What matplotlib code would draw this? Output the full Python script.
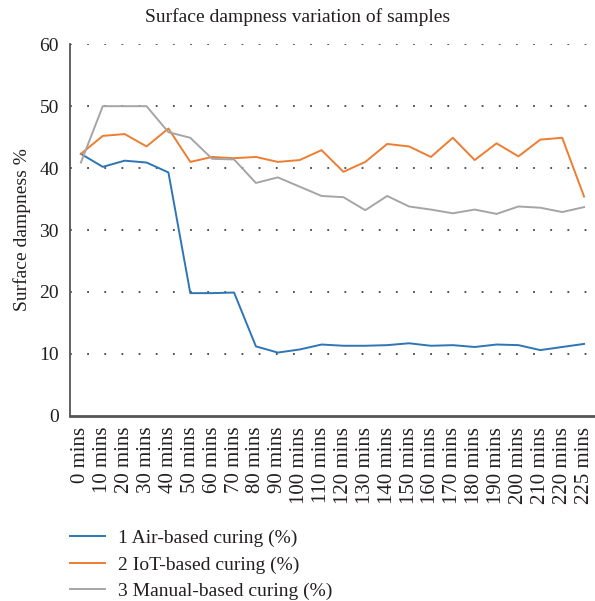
import matplotlib
matplotlib.use("Agg")
import matplotlib.pyplot as plt

# ---------------- Data ----------------

times = ["0 mins", "10 mins", "20 mins", "30 mins", "40 mins", "50 mins", "60 mins",
         "70 mins", "80 mins", "90 mins", "100 mins", "110 mins", "120 mins",
         "130 mins", "140 mins", "150 mins", "160 mins", "170 mins", "180 mins",
         "190 mins", "200 mins", "210 mins", "220 mins", "225 mins"]

air = [42.3, 40.2, 41.2, 40.9, 39.3, 19.8, 19.8, 19.9, 11.2, 10.2, 10.7, 11.5,
       11.3, 11.3, 11.4, 11.7, 11.3, 11.4, 11.1, 11.5, 11.4, 10.6, 11.1, 11.6]
iot = [42.3, 45.2, 45.5, 43.5, 46.4, 41.0, 41.8, 41.6, 41.8, 41.0, 41.3, 42.9,
       39.4, 41.0, 43.9, 43.5, 41.8, 44.9, 41.3, 44.0, 41.9, 44.6, 44.9, 35.4]
manual = [40.9, 50.0, 50.0, 50.0, 45.8, 44.9, 41.5, 41.4, 37.6, 38.5, 37.0, 35.5,
          35.3, 33.2, 35.5, 33.8, 33.3, 32.7, 33.3, 32.6, 33.8, 33.6, 32.9, 33.7]

labels = ["1 Air-based curing (%)", "2 IoT-based curing (%)", "3 Manual-based curing (%)"]
colors = ["#2E75B6", "#ED7D31", "#A5A5A5"]

# ---------------- Plot ----------------

plt.rcParams["font.family"] = ["Liberation Serif", "DejaVu Serif"]
txt = "#231f20"

fig = plt.figure(figsize=(5.95, 6.01), dpi=100)
ax = fig.add_axes([0.1176, 0.3083, 0.8824, 0.618])

x = list(range(len(times)))
lines = []
for vals, lab, col in zip([air, iot, manual], labels, colors):
    ln, = ax.plot(x, vals, color=col, lw=1.4, label=lab)
    lines.append(ln)

ax.set_xlim(-0.5, len(times) - 0.5)
ax.set_ylim(0, 60)
ax.set_yticks(range(0, 61, 10))
ax.set_xticks(x)
ax.set_xticklabels(times, rotation=90, fontsize=15, color=txt)
ax.tick_params(axis="y", labelsize=14, colors=txt, length=0, pad=8)
ax.tick_params(axis="x", length=0, pad=8)

for yv in range(10, 61, 10):
    ax.axhline(yv, color="#444444", lw=1.3, ls=(0, (1, 8.5)), zorder=0)

for s in ["top", "right"]:
    ax.spines[s].set_visible(False)
ax.spines["left"].set_color("#555555")
ax.spines["left"].set_linewidth(1.3)
ax.spines["bottom"].set_color("#555555")
ax.spines["bottom"].set_linewidth(2)

ax.set_ylabel("Surface dampness %", fontsize=14, color=txt, labelpad=6)
fig.text(0.5, 0.972, "Surface dampness variation of samples", ha="center",
         va="center", fontsize=14, color=txt)

fig.legend(handles=lines, loc="upper left", bbox_to_anchor=(0.088, 0.148),
           frameon=False, fontsize=14, handlelength=1.8, handletextpad=0.67,
           labelspacing=0.45, labelcolor=txt)

fig.savefig("out.png", dpi=100)
